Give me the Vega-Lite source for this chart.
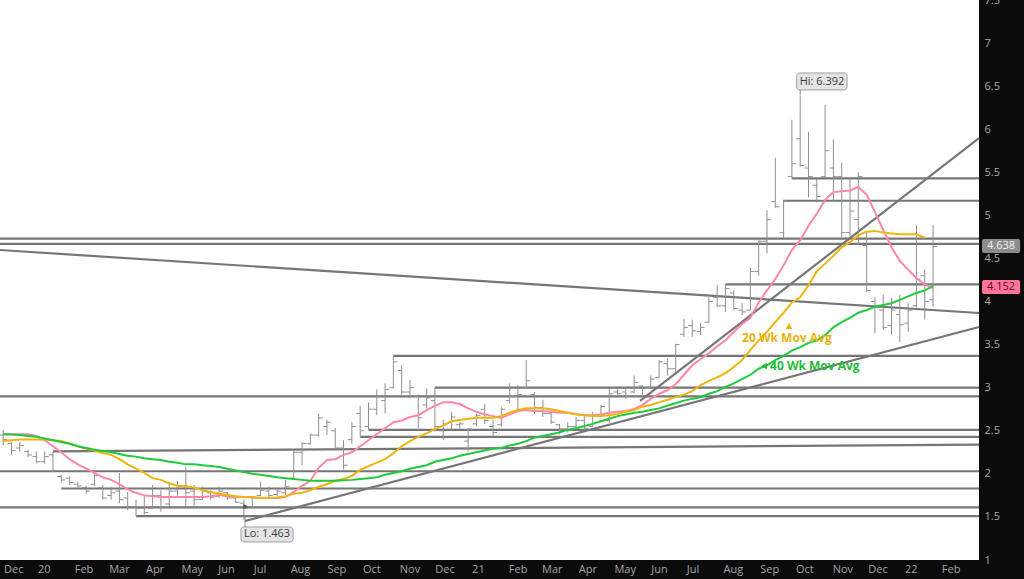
{
"$schema": "https://vega.github.io/schema/vega-lite/v6.json",
"width": 979, "height": 560,
"autosize": {"type": "none"},
"padding": {"left": 0, "top": 0, "right": 45, "bottom": 19},
"background": "#0b0b0b",
"config": {"view": {"fill": "#ffffff", "stroke": null}, "font": "Open Sans",
"axis": {"ticks": false, "domain": false, "grid": false, "labelFont": "Open Sans", "labelFontSize": 11}},
"datasets": {
"months": [
{"d":"2019-12-03T08:00:00","t":"Dec"},{"d":"2020-01-01T00:00:00","t":"20"},{"d":"2020-02-01T00:00:00","t":"Feb"},{"d":"2020-03-01T00:00:00","t":"Mar"},{"d":"2020-04-01T00:00:00","t":"Apr"},{"d":"2020-05-01T00:00:00","t":"May"},{"d":"2020-06-01T00:00:00","t":"Jun"},{"d":"2020-07-01T00:00:00","t":"Jul"},{"d":"2020-08-01T00:00:00","t":"Aug"},{"d":"2020-09-01T00:00:00","t":"Sep"},{"d":"2020-10-01T00:00:00","t":"Oct"},{"d":"2020-11-01T00:00:00","t":"Nov"},{"d":"2020-12-01T00:00:00","t":"Dec"},
{"d":"2021-01-01T00:00:00","t":"21"},{"d":"2021-02-01T00:00:00","t":"Feb"},{"d":"2021-03-01T00:00:00","t":"Mar"},{"d":"2021-04-01T00:00:00","t":"Apr"},{"d":"2021-05-01T00:00:00","t":"May"},{"d":"2021-06-01T00:00:00","t":"Jun"},{"d":"2021-07-01T00:00:00","t":"Jul"},{"d":"2021-08-01T00:00:00","t":"Aug"},{"d":"2021-09-01T00:00:00","t":"Sep"},{"d":"2021-10-01T00:00:00","t":"Oct"},{"d":"2021-11-01T00:00:00","t":"Nov"},{"d":"2021-12-01T00:00:00","t":"Dec"},
{"d":"2022-01-01T00:00:00","t":"22"},{"d":"2022-02-01T00:00:00","t":"Feb"}
],
"lines": [
{"x1":"2021-10-01T00:00:00","x2":"2022-03-07T18:00:00","y1":5.43,"y2":5.43},
{"x1":"2021-09-24T00:00:00","x2":"2022-03-07T18:00:00","y1":5.17,"y2":5.17},
{"x1":"2019-12-03T08:00:00","x2":"2022-03-07T18:00:00","y1":4.73,"y2":4.73},
{"x1":"2019-12-03T08:00:00","x2":"2022-03-07T18:00:00","y1":4.67,"y2":4.67},
{"x1":"2021-08-06T00:00:00","x2":"2022-03-07T18:00:00","y1":4.20,"y2":4.20},
{"x1":"2020-10-30T00:00:00","x2":"2022-03-07T18:00:00","y1":3.37,"y2":3.37},
{"x1":"2020-12-04T00:00:00","x2":"2022-03-07T18:00:00","y1":3.00,"y2":3.00},
{"x1":"2019-12-03T08:00:00","x2":"2022-03-07T18:00:00","y1":2.90,"y2":2.90},
{"x1":"2020-10-09T00:00:00","x2":"2022-03-07T18:00:00","y1":2.51,"y2":2.51},
{"x1":"2020-10-02T00:00:00","x2":"2022-03-07T18:00:00","y1":2.43,"y2":2.43},
{"x1":"2020-01-17T00:00:00","x2":"2022-03-07T18:00:00","y1":2.26,"y2":2.34},
{"x1":"2019-12-03T08:00:00","x2":"2022-03-07T18:00:00","y1":2.03,"y2":2.03},
{"x1":"2020-01-24T00:00:00","x2":"2022-03-07T18:00:00","y1":1.83,"y2":1.83},
{"x1":"2019-12-03T08:00:00","x2":"2022-03-07T18:00:00","y1":1.61,"y2":1.61},
{"x1":"2020-03-27T00:00:00","x2":"2022-03-07T18:00:00","y1":1.51,"y2":1.51},
{"x1":"2019-12-03T08:00:00","x2":"2022-03-07T18:00:00","y1":4.598,"y2":3.867},
{"x1":"2020-06-26T22:00:00","x2":"2022-03-07T18:00:00","y1":1.453,"y2":3.705},
{"x1":"2021-05-26T00:00:00","x2":"2022-03-07T18:00:00","y1":2.846,"y2":5.898}
],
"px": [
{"d":"2019-12-06T00:00:00","o":2.45,"h":2.51,"l":2.33,"c":2.40,"m10":2.46,"m20":2.38,"m40":2.46},
{"d":"2019-12-13T00:00:00","o":2.35,"h":2.37,"l":2.22,"c":2.27,"m10":2.46,"m20":2.39,"m40":2.457},
{"d":"2019-12-20T00:00:00","o":2.30,"h":2.37,"l":2.26,"c":2.33,"m10":2.46,"m20":2.40,"m40":2.45},
{"d":"2019-12-27T00:00:00","o":2.26,"h":2.28,"l":2.19,"c":2.22,"m10":2.46,"m20":2.40,"m40":2.44},
{"d":"2020-01-03T00:00:00","o":2.20,"h":2.26,"l":2.12,"c":2.14,"m10":2.44,"m20":2.40,"m40":2.43},
{"d":"2020-01-10T00:00:00","o":2.14,"h":2.26,"l":2.12,"c":2.20,"m10":2.39,"m20":2.40,"m40":2.41},
{"d":"2020-01-17T00:00:00","o":2.22,"h":2.26,"l":2.02,"c":2.04,"m10":2.32,"m20":2.39,"m40":2.39},
{"d":"2020-01-24T00:00:00","o":1.97,"h":1.99,"l":1.90,"c":1.93,"m10":2.25,"m20":2.38,"m40":2.37},
{"d":"2020-01-31T00:00:00","o":1.95,"h":1.97,"l":1.87,"c":1.90,"m10":2.17,"m20":2.35,"m40":2.35},
{"d":"2020-02-07T00:00:00","o":1.88,"h":1.91,"l":1.83,"c":1.86,"m10":2.11,"m20":2.32,"m40":2.32},
{"d":"2020-02-14T00:00:00","o":1.84,"h":1.86,"l":1.77,"c":1.80,"m10":2.06,"m20":2.29,"m40":2.30},
{"d":"2020-02-21T00:00:00","o":1.88,"h":2.03,"l":1.86,"c":1.98,"m10":2.01,"m20":2.27,"m40":2.28},
{"d":"2020-02-28T00:00:00","o":1.84,"h":1.87,"l":1.70,"c":1.72,"m10":1.96,"m20":2.24,"m40":2.265},
{"d":"2020-03-06T00:00:00","o":1.75,"h":1.85,"l":1.70,"c":1.78,"m10":1.93,"m20":2.22,"m40":2.25},
{"d":"2020-03-13T00:00:00","o":1.80,"h":2.01,"l":1.66,"c":1.70,"m10":1.88,"m20":2.17,"m40":2.23},
{"d":"2020-03-20T00:00:00","o":1.72,"h":1.79,"l":1.58,"c":1.62,"m10":1.82,"m20":2.11,"m40":2.21},
{"d":"2020-03-27T00:00:00","o":1.62,"h":1.70,"l":1.51,"c":1.60,"m10":1.78,"m20":2.06,"m40":2.20},
{"d":"2020-04-03T00:00:00","o":1.60,"h":1.75,"l":1.53,"c":1.55,"m10":1.75,"m20":2.01,"m40":2.18},
{"d":"2020-04-10T00:00:00","o":1.60,"h":1.87,"l":1.60,"c":1.75,"m10":1.74,"m20":1.95,"m40":2.17},
{"d":"2020-04-17T00:00:00","o":1.75,"h":1.81,"l":1.56,"c":1.62,"m10":1.73,"m20":1.93,"m40":2.16},
{"d":"2020-04-24T00:00:00","o":1.65,"h":1.91,"l":1.62,"c":1.80,"m10":1.73,"m20":1.89,"m40":2.14},
{"d":"2020-05-01T00:00:00","o":1.80,"h":1.92,"l":1.72,"c":1.85,"m10":1.73,"m20":1.86,"m40":2.13},
{"d":"2020-05-08T00:00:00","o":1.85,"h":2.08,"l":1.62,"c":1.78,"m10":1.73,"m20":1.86,"m40":2.11},
{"d":"2020-05-15T00:00:00","o":1.80,"h":1.87,"l":1.62,"c":1.70,"m10":1.73,"m20":1.84,"m40":2.11},
{"d":"2020-05-22T00:00:00","o":1.70,"h":1.85,"l":1.70,"c":1.80,"m10":1.73,"m20":1.81,"m40":2.10},
{"d":"2020-05-29T00:00:00","o":1.78,"h":1.81,"l":1.70,"c":1.73,"m10":1.74,"m20":1.79,"m40":2.09},
{"d":"2020-06-05T00:00:00","o":1.74,"h":1.85,"l":1.72,"c":1.80,"m10":1.755,"m20":1.77,"m40":2.08},
{"d":"2020-06-12T00:00:00","o":1.78,"h":1.79,"l":1.70,"c":1.72,"m10":1.74,"m20":1.755,"m40":2.06},
{"d":"2020-06-19T00:00:00","o":1.72,"h":1.75,"l":1.66,"c":1.67,"m10":1.73,"m20":1.74,"m40":2.04},
{"d":"2020-06-26T00:00:00","o":1.66,"h":1.70,"l":1.463,"c":1.60,"m10":1.73,"m20":1.73,"m40":2.02},
{"d":"2020-07-03T00:00:00","o":1.62,"h":1.74,"l":1.60,"c":1.72,"m10":1.73,"m20":1.725,"m40":2.00},
{"d":"2020-07-10T00:00:00","o":1.75,"h":1.91,"l":1.74,"c":1.81,"m10":1.72,"m20":1.72,"m40":1.99},
{"d":"2020-07-17T00:00:00","o":1.80,"h":1.85,"l":1.72,"c":1.75,"m10":1.72,"m20":1.72,"m40":1.975},
{"d":"2020-07-24T00:00:00","o":1.76,"h":1.83,"l":1.74,"c":1.80,"m10":1.72,"m20":1.725,"m40":1.96},
{"d":"2020-07-31T00:00:00","o":1.78,"h":1.93,"l":1.75,"c":1.85,"m10":1.73,"m20":1.74,"m40":1.95},
{"d":"2020-08-07T00:00:00","o":1.95,"h":2.28,"l":1.93,"c":2.25,"m10":1.79,"m20":1.77,"m40":1.94},
{"d":"2020-08-14T00:00:00","o":2.25,"h":2.37,"l":2.10,"c":2.35,"m10":1.86,"m20":1.78,"m40":1.93},
{"d":"2020-08-21T00:00:00","o":2.35,"h":2.47,"l":2.34,"c":2.45,"m10":1.92,"m20":1.81,"m40":1.92},
{"d":"2020-08-28T00:00:00","o":2.45,"h":2.70,"l":2.43,"c":2.65,"m10":2.07,"m20":1.85,"m40":1.92},
{"d":"2020-09-04T00:00:00","o":2.55,"h":2.63,"l":2.45,"c":2.60,"m10":2.16,"m20":1.88,"m40":1.92},
{"d":"2020-09-11T00:00:00","o":2.50,"h":2.53,"l":2.28,"c":2.30,"m10":2.17,"m20":1.92,"m40":1.92},
{"d":"2020-09-18T00:00:00","o":2.30,"h":2.39,"l":2.05,"c":2.10,"m10":2.22,"m20":1.94,"m40":1.925},
{"d":"2020-09-25T00:00:00","o":2.40,"h":2.60,"l":2.35,"c":2.55,"m10":2.25,"m20":1.975,"m40":1.93},
{"d":"2020-10-02T00:00:00","o":2.70,"h":2.79,"l":2.43,"c":2.50,"m10":2.32,"m20":2.045,"m40":1.94},
{"d":"2020-10-09T00:00:00","o":2.55,"h":2.83,"l":2.51,"c":2.75,"m10":2.39,"m20":2.09,"m40":1.95},
{"d":"2020-10-16T00:00:00","o":2.75,"h":2.98,"l":2.68,"c":2.90,"m10":2.46,"m20":2.13,"m40":1.96},
{"d":"2020-10-23T00:00:00","o":2.85,"h":3.05,"l":2.70,"c":2.98,"m10":2.53,"m20":2.17,"m40":1.99},
{"d":"2020-10-30T00:00:00","o":3.00,"h":3.37,"l":2.99,"c":3.30,"m10":2.60,"m20":2.24,"m40":2.01},
{"d":"2020-11-06T00:00:00","o":3.20,"h":3.26,"l":2.90,"c":2.95,"m10":2.62,"m20":2.32,"m40":2.03},
{"d":"2020-11-13T00:00:00","o":2.95,"h":3.09,"l":2.88,"c":3.00,"m10":2.66,"m20":2.38,"m40":2.06},
{"d":"2020-11-20T00:00:00","o":2.90,"h":2.92,"l":2.53,"c":2.65,"m10":2.68,"m20":2.43,"m40":2.08},
{"d":"2020-11-27T00:00:00","o":2.80,"h":2.99,"l":2.76,"c":2.88,"m10":2.74,"m20":2.47,"m40":2.10},
{"d":"2020-12-04T00:00:00","o":2.85,"h":3.00,"l":2.49,"c":2.55,"m10":2.79,"m20":2.52,"m40":2.14},
{"d":"2020-12-11T00:00:00","o":2.50,"h":2.63,"l":2.39,"c":2.58,"m10":2.83,"m20":2.56,"m40":2.16},
{"d":"2020-12-18T00:00:00","o":2.60,"h":2.72,"l":2.51,"c":2.66,"m10":2.83,"m20":2.61,"m40":2.18},
{"d":"2020-12-25T00:00:00","o":2.57,"h":2.60,"l":2.53,"c":2.58,"m10":2.81,"m20":2.625,"m40":2.21},
{"d":"2021-01-01T00:00:00","o":2.38,"h":2.53,"l":2.26,"c":2.52,"m10":2.76,"m20":2.64,"m40":2.23},
{"d":"2021-01-08T00:00:00","o":2.58,"h":2.70,"l":2.55,"c":2.68,"m10":2.72,"m20":2.65,"m40":2.25},
{"d":"2021-01-15T00:00:00","o":2.75,"h":2.81,"l":2.58,"c":2.62,"m10":2.69,"m20":2.65,"m40":2.27},
{"d":"2021-01-22T00:00:00","o":2.55,"h":2.63,"l":2.43,"c":2.48,"m10":2.67,"m20":2.65,"m40":2.29},
{"d":"2021-01-29T00:00:00","o":2.57,"h":2.78,"l":2.55,"c":2.75,"m10":2.65,"m20":2.67,"m40":2.30},
{"d":"2021-02-05T00:00:00","o":2.85,"h":3.05,"l":2.82,"c":2.90,"m10":2.69,"m20":2.71,"m40":2.33},
{"d":"2021-02-12T00:00:00","o":2.90,"h":3.03,"l":2.74,"c":2.92,"m10":2.73,"m20":2.74,"m40":2.35},
{"d":"2021-02-19T00:00:00","o":3.00,"h":3.32,"l":2.99,"c":3.08,"m10":2.74,"m20":2.76,"m40":2.38},
{"d":"2021-02-26T00:00:00","o":2.92,"h":2.95,"l":2.70,"c":2.77,"m10":2.73,"m20":2.76,"m40":2.42},
{"d":"2021-03-05T00:00:00","o":2.77,"h":2.86,"l":2.66,"c":2.70,"m10":2.73,"m20":2.76,"m40":2.44},
{"d":"2021-03-12T00:00:00","o":2.70,"h":2.74,"l":2.58,"c":2.60,"m10":2.72,"m20":2.75,"m40":2.46},
{"d":"2021-03-19T00:00:00","o":2.57,"h":2.58,"l":2.46,"c":2.52,"m10":2.71,"m20":2.73,"m40":2.48},
{"d":"2021-03-26T00:00:00","o":2.52,"h":2.60,"l":2.48,"c":2.55,"m10":2.71,"m20":2.71,"m40":2.51},
{"d":"2021-04-02T00:00:00","o":2.55,"h":2.66,"l":2.52,"c":2.62,"m10":2.695,"m20":2.69,"m40":2.53},
{"d":"2021-04-09T00:00:00","o":2.62,"h":2.67,"l":2.50,"c":2.53,"m10":2.68,"m20":2.68,"m40":2.555},
{"d":"2021-04-16T00:00:00","o":2.55,"h":2.72,"l":2.55,"c":2.68,"m10":2.68,"m20":2.67,"m40":2.58},
{"d":"2021-04-23T00:00:00","o":2.68,"h":2.80,"l":2.66,"c":2.78,"m10":2.69,"m20":2.67,"m40":2.61},
{"d":"2021-04-30T00:00:00","o":2.62,"h":2.99,"l":2.59,"c":2.93,"m10":2.71,"m20":2.68,"m40":2.64},
{"d":"2021-05-07T00:00:00","o":2.95,"h":2.99,"l":2.91,"c":2.93,"m10":2.72,"m20":2.695,"m40":2.67},
{"d":"2021-05-14T00:00:00","o":2.95,"h":2.99,"l":2.87,"c":2.90,"m10":2.73,"m20":2.72,"m40":2.69},
{"d":"2021-05-21T00:00:00","o":2.95,"h":3.14,"l":2.94,"c":3.06,"m10":2.75,"m20":2.74,"m40":2.71},
{"d":"2021-05-28T00:00:00","o":3.02,"h":3.03,"l":2.86,"c":2.99,"m10":2.80,"m20":2.78,"m40":2.72},
{"d":"2021-06-04T00:00:00","o":3.00,"h":3.14,"l":2.99,"c":3.10,"m10":2.87,"m20":2.80,"m40":2.74},
{"d":"2021-06-11T00:00:00","o":3.12,"h":3.32,"l":3.11,"c":3.30,"m10":2.93,"m20":2.83,"m40":2.76},
{"d":"2021-06-18T00:00:00","o":3.28,"h":3.34,"l":3.14,"c":3.22,"m10":2.97,"m20":2.86,"m40":2.79},
{"d":"2021-06-25T00:00:00","o":3.22,"h":3.51,"l":3.18,"c":3.50,"m10":3.04,"m20":2.89,"m40":2.82},
{"d":"2021-07-02T00:00:00","o":3.62,"h":3.80,"l":3.59,"c":3.70,"m10":3.15,"m20":2.92,"m40":2.85},
{"d":"2021-07-09T00:00:00","o":3.72,"h":3.79,"l":3.59,"c":3.66,"m10":3.26,"m20":2.96,"m40":2.87},
{"d":"2021-07-16T00:00:00","o":3.65,"h":3.75,"l":3.61,"c":3.70,"m10":3.33,"m20":3.03,"m40":2.89},
{"d":"2021-07-23T00:00:00","o":3.76,"h":4.05,"l":3.75,"c":4.00,"m10":3.40,"m20":3.08,"m40":2.93},
{"d":"2021-07-30T00:00:00","o":4.05,"h":4.19,"l":3.94,"c":3.95,"m10":3.48,"m20":3.12,"m40":2.96},
{"d":"2021-08-06T00:00:00","o":3.95,"h":4.20,"l":3.88,"c":4.15,"m10":3.55,"m20":3.17,"m40":3.01},
{"d":"2021-08-13T00:00:00","o":4.10,"h":4.13,"l":3.90,"c":3.92,"m10":3.65,"m20":3.24,"m40":3.05},
{"d":"2021-08-20T00:00:00","o":3.90,"h":3.98,"l":3.84,"c":3.88,"m10":3.74,"m20":3.32,"m40":3.10},
{"d":"2021-08-27T00:00:00","o":3.90,"h":4.39,"l":3.90,"c":4.35,"m10":3.81,"m20":3.44,"m40":3.15},
{"d":"2021-09-03T00:00:00","o":4.35,"h":4.71,"l":4.30,"c":4.70,"m10":3.99,"m20":3.55,"m40":3.22},
{"d":"2021-09-10T00:00:00","o":4.70,"h":5.06,"l":4.56,"c":4.95,"m10":4.13,"m20":3.65,"m40":3.26},
{"d":"2021-09-17T00:00:00","o":5.16,"h":5.67,"l":5.09,"c":5.10,"m10":4.26,"m20":3.76,"m40":3.32},
{"d":"2021-09-24T00:00:00","o":4.80,"h":5.18,"l":4.74,"c":5.17,"m10":4.42,"m20":3.87,"m40":3.37},
{"d":"2021-10-01T00:00:00","o":5.45,"h":6.11,"l":5.43,"c":5.60,"m10":4.60,"m20":3.99,"m40":3.43},
{"d":"2021-10-08T00:00:00","o":5.89,"h":6.392,"l":5.56,"c":5.58,"m10":4.71,"m20":4.05,"m40":3.47},
{"d":"2021-10-15T00:00:00","o":5.55,"h":5.97,"l":5.21,"c":5.45,"m10":4.88,"m20":4.19,"m40":3.52},
{"d":"2021-10-22T00:00:00","o":5.35,"h":5.42,"l":5.15,"c":5.22,"m10":5.02,"m20":4.35,"m40":3.55},
{"d":"2021-10-29T00:00:00","o":5.45,"h":6.28,"l":5.43,"c":5.75,"m10":5.18,"m20":4.44,"m40":3.61},
{"d":"2021-11-05T00:00:00","o":5.55,"h":5.88,"l":5.16,"c":5.45,"m10":5.27,"m20":4.53,"m40":3.70},
{"d":"2021-11-12T00:00:00","o":5.45,"h":5.61,"l":4.75,"c":4.80,"m10":5.28,"m20":4.63,"m40":3.76},
{"d":"2021-11-19T00:00:00","o":4.80,"h":5.43,"l":4.74,"c":5.05,"m10":5.29,"m20":4.69,"m40":3.81},
{"d":"2021-11-26T00:00:00","o":4.95,"h":5.50,"l":4.66,"c":5.45,"m10":5.33,"m20":4.77,"m40":3.87},
{"d":"2021-12-03T00:00:00","o":4.65,"h":4.81,"l":4.11,"c":4.13,"m10":5.24,"m20":4.81,"m40":3.90},
{"d":"2021-12-10T00:00:00","o":4.00,"h":4.05,"l":3.63,"c":3.93,"m10":5.04,"m20":4.82,"m40":3.94},
{"d":"2021-12-17T00:00:00","o":3.90,"h":4.08,"l":3.67,"c":3.70,"m10":4.83,"m20":4.80,"m40":3.96},
{"d":"2021-12-24T00:00:00","o":3.72,"h":4.04,"l":3.61,"c":3.90,"m10":4.63,"m20":4.79,"m40":3.98},
{"d":"2021-12-31T00:00:00","o":3.85,"h":4.08,"l":3.53,"c":3.73,"m10":4.47,"m20":4.78,"m40":4.02},
{"d":"2022-01-07T00:00:00","o":3.75,"h":3.98,"l":3.65,"c":3.90,"m10":4.37,"m20":4.78,"m40":4.06},
{"d":"2022-01-14T00:00:00","o":3.95,"h":4.89,"l":3.93,"c":4.26,"m10":4.27,"m20":4.78,"m40":4.10},
{"d":"2022-01-21T00:00:00","o":4.30,"h":4.37,"l":3.79,"c":4.00,"m10":4.20,"m20":4.74,"m40":4.13},
{"d":"2022-01-28T00:00:00","o":4.02,"h":4.89,"l":3.94,"c":4.638,"m10":4.152,"m40":4.18}
]
},
"layer": [
{
"data": {"name": "lines"},
"mark": {"type": "rule", "color": "#767676", "strokeWidth": 2.2},
"encoding": {
"x": {"field": "x1", "type": "temporal", "title": null,
"scale": {"domain": [{"year": 2019, "month": 12, "date": 3, "hours": 8}, {"year": 2022, "month": 3, "date": 7, "hours": 18}], "nice": false},
"axis": {"labels": false, "ticks": false, "domain": false, "grid": false}},
"x2": {"field": "x2"},
"y": {"field": "y1", "type": "quantitative", "title": null,
"scale": {"domain": [1, 7.5], "nice": false, "zero": false},
"axis": {"orient": "right", "values": [1,1.5,2,2.5,3,3.5,4,4.5,5,5.5,6,6.5,7,7.5], "format": "~g",
"labelColor": "#ababab", "labelPadding": 5,
"labelOverlap": false, "labelFlush": false, "labelBound": false, "ticks": false, "domain": false, "grid": false}},
"y2": {"field": "y2"}
}
},
{
"data": {"name": "months"},
"mark": {"type": "text", "fontSize": 11, "color": "#a6a6a6", "align": "left", "baseline": "middle", "dx": 4, "font": "Open Sans"},
"encoding": {
"x": {"field": "d", "type": "temporal", "title": null},
"y": {"datum": 0.888, "type": "quantitative"},
"text": {"field": "t", "type": "nominal"}
}
},
{
"data": {"name": "px"},
"mark": {"type": "rule", "color": "#8e8e8e", "strokeWidth": 1},
"encoding": {
"x": {"field": "d", "type": "temporal", "title": null},
"y": {"field": "l", "type": "quantitative", "title": null},
"y2": {"field": "h"}
}
},
{
"data": {"name": "px"},
"mark": {"type": "tick", "orient": "horizontal", "size": 4, "thickness": 1, "xOffset": -2, "color": "#8e8e8e", "opacity": 1},
"encoding": {
"x": {"field": "d", "type": "temporal", "title": null},
"y": {"field": "o", "type": "quantitative", "title": null}
}
},
{
"data": {"name": "px"},
"mark": {"type": "tick", "orient": "horizontal", "size": 4, "thickness": 1, "xOffset": 2, "color": "#8e8e8e", "opacity": 1},
"encoding": {
"x": {"field": "d", "type": "temporal", "title": null},
"y": {"field": "c", "type": "quantitative", "title": null}
}
},
{
"data": {"name": "px"},
"mark": {"type": "line", "color": "#ff86a9", "strokeWidth": 2},
"encoding": {
"x": {"field": "d", "type": "temporal", "title": null},
"y": {"field": "m10", "type": "quantitative", "title": null}
}
},
{
"data": {"name": "px"},
"mark": {"type": "line", "color": "#efb50c", "strokeWidth": 2},
"encoding": {
"x": {"field": "d", "type": "temporal", "title": null},
"y": {"field": "m20", "type": "quantitative", "title": null}
}
},
{
"data": {"name": "px"},
"mark": {"type": "line", "color": "#1fca3c", "strokeWidth": 2},
"encoding": {
"x": {"field": "d", "type": "temporal", "title": null},
"y": {"field": "m40", "type": "quantitative", "title": null}
}
},
{
"data": {"values": [
{"x1":"2021-10-05T00:00:00","x2":"2021-11-16T12:00:00","y1":6.456,"y2":6.653},
{"x1":"2020-06-23T12:00:00","x2":"2020-08-06T10:00:00","y1":1.209,"y2":1.383}]},
"mark": {"type": "rect", "fill": "#e4e4e4", "stroke": "#a0a0a0", "strokeWidth": 1, "cornerRadius": 3},
"encoding": {
"x": {"field": "x1", "type": "temporal", "title": null}, "x2": {"field": "x2"},
"y": {"field": "y1", "type": "quantitative", "title": null}, "y2": {"field": "y2"}
}
},
{
"data": {"values": [
{"x":"2020-06-26T22:00:00","y1":1.383,"y2":1.50},
{"x":"2021-10-08T00:00:00","y1":6.40,"y2":6.456}]},
"mark": {"type": "rule", "color": "#8a8a8a", "strokeWidth": 1},
"encoding": {
"x": {"field": "x", "type": "temporal", "title": null},
"y": {"field": "y1", "type": "quantitative", "title": null}, "y2": {"field": "y2"}
}
},
{
"data": {"values": [
{"x":"2021-10-26T10:00:00","y":6.554,"t":"Hi: 6.392"},
{"x":"2020-07-15T12:00:00","y":1.296,"t":"Lo: 1.463"}]},
"mark": {"type": "text", "fontSize": 11, "color": "#3a3a3a", "align": "center", "baseline": "middle", "font": "Open Sans"},
"encoding": {
"x": {"field": "x", "type": "temporal", "title": null},
"y": {"field": "y", "type": "quantitative", "title": null},
"text": {"field": "t", "type": "nominal"}
}
},
{
"data": {"values": [{"x":"2020-06-27T12:00:00","y":1.62}]},
"mark": {"type": "point", "shape": "triangle-right", "size": 30, "filled": true, "color": "#5a5a5a", "opacity": 1},
"encoding": {
"x": {"field": "x", "type": "temporal", "title": null},
"y": {"field": "y", "type": "quantitative", "title": null}
}
},
{
"data": {"values": [{"x":"2021-08-20T00:00:00","y":3.577,"t":"20 Wk Mov Avg"}]},
"mark": {"type": "text", "fontSize": 12, "fontWeight": "bold", "color": "#e9b30d", "align": "left", "baseline": "middle", "font": "Open Sans"},
"encoding": {
"x": {"field": "x", "type": "temporal", "title": null},
"y": {"field": "y", "type": "quantitative", "title": null},
"text": {"field": "t", "type": "nominal"}
}
},
{
"data": {"values": [{"x":"2021-09-28T14:00:00","y":3.716}]},
"mark": {"type": "point", "shape": "triangle-up", "size": 45, "filled": true, "color": "#e9b30d", "opacity": 1},
"encoding": {
"x": {"field": "x", "type": "temporal", "title": null},
"y": {"field": "y", "type": "quantitative", "title": null}
}
},
{
"data": {"values": [{"x":"2021-09-12T14:00:00","y":3.252,"t":"40 Wk Mov Avg"}]},
"mark": {"type": "text", "fontSize": 12, "fontWeight": "bold", "color": "#1fbb39", "align": "left", "baseline": "middle", "font": "Open Sans"},
"encoding": {
"x": {"field": "x", "type": "temporal", "title": null},
"y": {"field": "y", "type": "quantitative", "title": null},
"text": {"field": "t", "type": "nominal"}
}
},
{
"data": {"values": [{"x":"2021-09-07T12:00:00","y":3.252}]},
"mark": {"type": "point", "shape": "triangle-left", "size": 45, "filled": true, "color": "#1fbb39", "opacity": 1},
"encoding": {
"x": {"field": "x", "type": "temporal", "title": null},
"y": {"field": "y", "type": "quantitative", "title": null}
}
},
{
"data": {"values": [{"x1":"2022-03-10T07:00:00","x2":"2022-04-11T10:00:00","y1":4.564,"y2":4.726}]},
"mark": {"type": "rect", "fill": "#8c8c8c", "cornerRadius": 2},
"encoding": {
"x": {"field": "x1", "type": "temporal", "title": null}, "x2": {"field": "x2"},
"y": {"field": "y1", "type": "quantitative", "title": null}, "y2": {"field": "y2"}
}
},
{
"data": {"values": [{"x1":"2022-03-10T07:00:00","x2":"2022-04-11T10:00:00","y1":4.088,"y2":4.25}]},
"mark": {"type": "rect", "fill": "#ff7499", "cornerRadius": 2},
"encoding": {
"x": {"field": "x1", "type": "temporal", "title": null}, "x2": {"field": "x2"},
"y": {"field": "y1", "type": "quantitative", "title": null}, "y2": {"field": "y2"}
}
},
{
"data": {"values": [{"x":"2022-03-26T07:00:00","y":4.645,"t":"4.638"}]},
"mark": {"type": "text", "fontSize": 11, "color": "#f2f2f2", "align": "center", "baseline": "middle", "font": "Open Sans"},
"encoding": {
"x": {"field": "x", "type": "temporal", "title": null},
"y": {"field": "y", "type": "quantitative", "title": null},
"text": {"field": "t", "type": "nominal"}
}
},
{
"data": {"values": [{"x":"2022-03-26T07:00:00","y":4.169,"t":"4.152"}]},
"mark": {"type": "text", "fontSize": 11, "color": "#5c0c24", "align": "center", "baseline": "middle", "font": "Open Sans"},
"encoding": {
"x": {"field": "x", "type": "temporal", "title": null},
"y": {"field": "y", "type": "quantitative", "title": null},
"text": {"field": "t", "type": "nominal"}
}
}
]
}
